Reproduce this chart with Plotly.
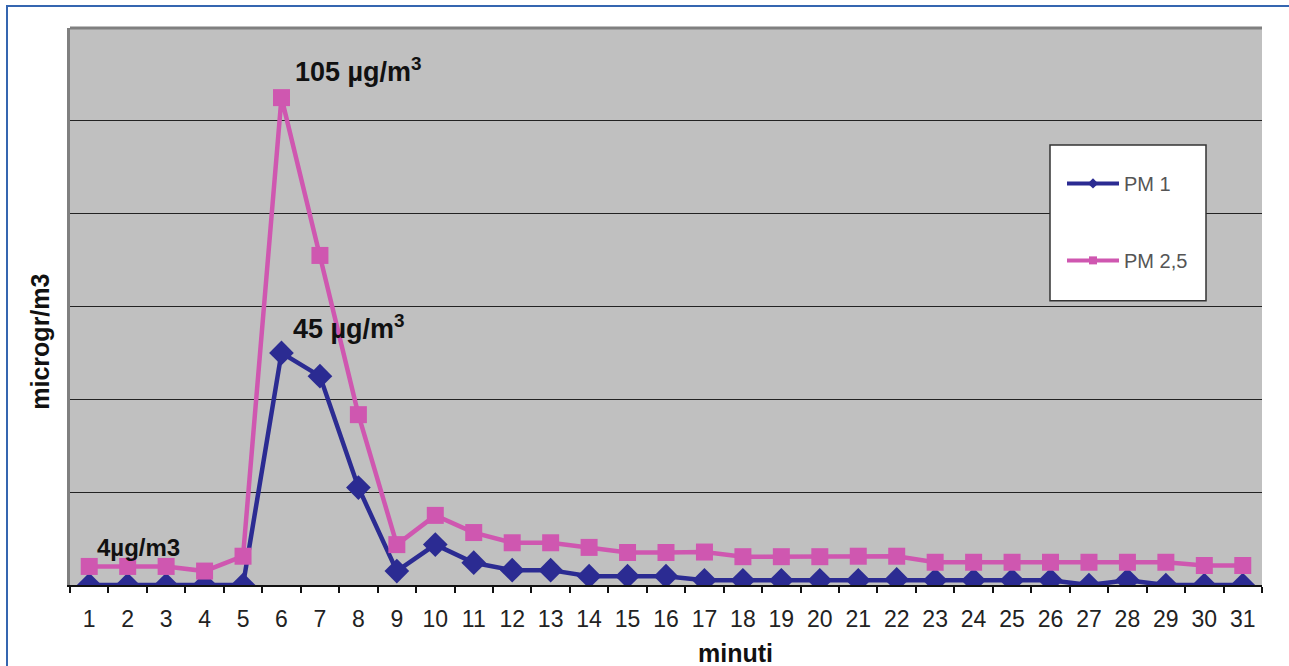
import plotly.graph_objects as go

minutes = [str(i) for i in range(1, 32)]
pm1 = [0, 0, 0, 0, 0, 50, 45, 21, 3, 8.7, 4.8, 3.2, 3.2, 1.9, 1.9, 1.9,
       1, 1, 1, 1, 1, 1.2, 1, 1, 1, 1, 0, 1, 0, 0, 0]
pm25 = [4, 4, 4, 3, 6.2, 105, 71, 36.7, 8.7, 15, 11.3, 9.1, 9.1, 8.1, 7, 7,
        7.1, 6.1, 6.1, 6.1, 6.2, 6.2, 4.9, 4.9, 4.9, 4.9, 4.9, 4.9, 4.9, 4.2, 4.2]
series_names = ["PM 1", "PM 2,5"]

BLUE = "#2B2B92"
PINK = "#CF57B0"
FONT = "Liberation Sans, Arial, sans-serif"

W, H = 1289, 666
L, R, T, B = 70, 1262, 28, 585.5


def px(x):
    return (x - L) / (R - L)


def py(y):
    return (B - y) / (B - T)


fig = go.Figure()
fig.add_trace(go.Scatter(
    x=minutes, y=pm1, name=series_names[0], mode="lines+markers", showlegend=False,
    line=dict(color=BLUE, width=4.5),
    marker=dict(symbol="diamond", size=19, color=BLUE),
))
fig.add_trace(go.Scatter(
    x=minutes, y=pm25, name=series_names[1], mode="lines+markers", showlegend=False,
    line=dict(color=PINK, width=4.5),
    marker=dict(symbol="square", size=17, color=PINK),
))
# legend entries (small markers as in the original legend)
fig.add_trace(go.Scatter(
    x=[None], y=[None], name=series_names[0], mode="lines+markers", legendgroup="a",
    line=dict(color=BLUE, width=4), marker=dict(symbol="diamond", size=8, color=BLUE),
))
fig.add_trace(go.Scatter(
    x=[None], y=[None], name=series_names[1], mode="lines+markers", legendgroup="b",
    line=dict(color=PINK, width=4), marker=dict(symbol="square", size=8, color=PINK),
))

shapes = [
    dict(type="rect", xref="paper", yref="paper",
         x0=px(1050), x1=px(1206), y0=py(301), y1=py(145),
         fillcolor="white", line=dict(color="#333333", width=1.5), layer="above"),
    dict(type="line", xref="paper", yref="paper", x0=0, x1=1, y0=1, y1=1,
         line=dict(color="#808080", width=3), layer="below"),
    dict(type="rect", xref="paper", yref="paper",
         x0=px(7), x1=px(1295), y0=py(700), y1=py(6),
         line=dict(color="#3566B0", width=2), fillcolor="rgba(0,0,0,0)"),
]

annotations = [
    dict(text="<b>105 µg/m<sup>3</sup></b>", x=5.3, y=111, xref="x", yref="y",
         xanchor="left", yanchor="middle", showarrow=False,
         font=dict(family=FONT, size=27, color="#111")),
    dict(text="<b>45 µg/m<sup>3</sup></b>", x=5.25, y=55.5, xref="x", yref="y",
         xanchor="left", yanchor="middle", showarrow=False,
         font=dict(family=FONT, size=27, color="#111")),
    dict(text="<b>4µg/m3</b>", x=0.15, y=8.0, xref="x", yref="y",
         xanchor="left", yanchor="middle", showarrow=False,
         font=dict(family=FONT, size=24, color="#111")),
    dict(text="<b>microgr/m3</b>", x=px(40), y=py(342), xref="paper", yref="paper",
         textangle=-90, showarrow=False, xanchor="center", yanchor="middle",
         font=dict(family=FONT, size=25, color="#111")),
    dict(text="<b>minuti</b>", x=px(735), y=py(654), xref="paper", yref="paper",
         showarrow=False, xanchor="center", yanchor="middle",
         font=dict(family=FONT, size=25, color="#111")),
]

fig.update_layout(
    width=W, height=H,
    margin=dict(l=L, r=W - R, t=T, b=H - B),
    paper_bgcolor="white",
    plot_bgcolor="#C0C0C0",
    font=dict(family=FONT, color="#222"),
    showlegend=True,
    legend=dict(
        x=px(1062), y=py(164), xanchor="left", yanchor="top",
        bgcolor="rgba(0,0,0,0)", borderwidth=0,
        font=dict(family=FONT, size=20, color="#555"),
        traceorder="grouped", tracegroupgap=48, itemwidth=52,
    ),
    shapes=shapes,
    annotations=annotations,
)

fig.update_xaxes(
    type="category", tickson="boundaries", ticks="outside", ticklen=6,
    tickcolor="#111", tickwidth=1.5,
    showline=True, linecolor="#111", linewidth=2,
    showgrid=False, zeroline=False,
    tickfont=dict(family=FONT, size=23, color="#222"),
    ticklabelstandoff=12,
    range=[-0.5, 30.5],
)
fig.update_yaxes(
    range=[0, 120], tickvals=[20, 40, 60, 80, 100], showticklabels=False,
    showgrid=True, gridcolor="#222", gridwidth=1.2,
    showline=True, linecolor="#808080", linewidth=3, zeroline=False,
    ticks="",
)

fig.write_html("out.html")
